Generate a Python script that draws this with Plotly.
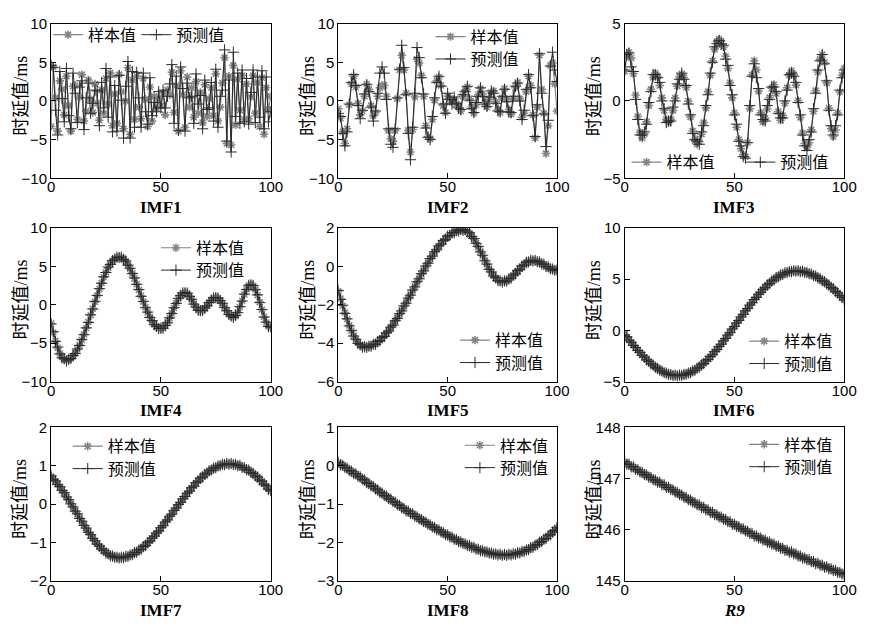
import plotly.graph_objects as go

# ---------------- data: sample (样本值) and predicted (预测值) delay per component ----------------
imf1_sample = [-3.3, 4.4, 0.4, -3.9, 2.6, 1.5, -1.8, 3.2, -0.6, -3.9,
               1.9, 2.0, -2.4, 0.5, 3.4, -2.6, -1.3, 2.7, 0.2, -1.5,
               2.2, -0.3, -2.5, 1.4, -1.6, 2.9, -0.4, 3.6, -3.2, 0.9,
               -2.9, 3.4, 1.2, -3.6, 0.0, 4.3, -4.3, 2.7, -2.4, 3.2,
               -0.8, -2.3, 2.9, 0.2, -3.3, 1.8, -2.6, 0.6, -1.0, 0.3,
               -0.6, 1.0, -1.8, 1.4, 0.8, 3.7, -1.5, 2.0, -3.9, 3.9,
               0.8, -3.4, 3.1, -0.8, 1.7, -2.1, 2.5, -1.6, 1.1, -2.8,
               2.1, -2.0, 0.3, 1.7, -1.9, 3.5, -2.6, -0.8, 2.3, 5.6,
               -5.5, 3.2, -5.7, 4.6, -3.1, 2.8, -1.2, 3.3, -2.4, 2.2,
               -2.3, 0.5, 3.3, -1.6, 2.4, -3.3, 3.0, -4.3, 1.7, -1.1,
               0.6]
imf1_pred = [4.6, 4.3, -1.2, -4.4, 3.8, 0.3, -2.7, 4.2, -1.9, -3.6,
             3.6, 1.0, -2.8, 1.8, 2.6, -3.7, 0.4, 2.3, -1.6, -0.3,
             1.4, 1.3, -3.2, 2.4, -0.9, 4.2, -2.1, 3.1, -4.0, 2.0,
             -3.9, 3.3, 0.1, -4.8, 1.9, 5.1, -4.8, 3.8, -3.4, 3.7,
             0.4, -3.4, 3.6, -1.4, -3.0, 3.0, -1.9, -0.2, -1.4, 1.2,
             -0.9, 1.4, -0.9, 0.6, 2.2, 4.7, -2.9, 3.2, -3.8, 4.4,
             1.6, -3.9, 2.3, 0.4, 0.6, -2.9, 3.5, -0.4, 0.7, -3.6,
             2.7, -1.1, -0.9, 2.4, -2.6, 4.1, -3.4, 0.6, 1.4, 6.6,
             -5.2, 2.7, -6.6, 6.3, -2.0, 3.6, -2.9, 4.0, -2.7, 2.9,
             -3.0, 1.1, 4.0, -2.8, 3.1, -2.1, 3.9, -3.6, 3.1, -2.7,
             -1.4]

imf2_sample = [-1.0, -2.2, -4.0, -5.5, -3.6, -0.5, 2.2, 3.2, 1.8, -0.3,
               -1.8, -1.3, 0.6, 2.2, 1.5, -0.6, -1.9, -1.5, 0.6, 1.7,
               2.0, 2.0, 0.6, -3.8, -4.9, -5.2, -3.8, 0.3, 4.0, 5.9,
               4.0, 1.0, -3.8, -6.6, -3.7, 0.5, 5.4, 4.9, 3.3, 0.6,
               -3.2, -4.6, -4.9, -2.4, 0.1, 2.6, 3.1, 2.0, -0.6, -1.5,
               0.6, 0.3, -0.2, 0.2, -0.4, -0.6, -1.3, 0.6, 1.4, 1.8,
               0.3, -0.8, -1.6, -0.5, 0.8, 1.6, 0.9, -0.2, -0.8, 0.2,
               1.1, 1.3, -0.1, -1.1, -1.5, 0.4, 1.6, 0.2, -1.1, -1.7,
               0.3, 1.7, 2.4, 0.3, -2.1, -1.6, 1.2, 3.2, 2.0, -1.8,
               -4.8, -0.8, 5.9, 1.5, -1.6, -6.8, -3.2, 4.6, 4.9, 2.2,
               -1.3]
imf2_pred = [-1.6, -2.0, -4.2, -5.8, -4.0, -0.4, 2.4, 3.4, 2.0, -0.6,
             -2.3, -1.2, 0.9, 2.1, 1.2, -0.8, -2.6, -1.3, 1.0, 3.6,
             4.4, 3.6, 0.2, -3.6, -5.6, -6.0, -3.6, 0.4, 4.1, 7.2,
             4.3, 0.8, -4.2, -7.6, -3.4, 1.0, 6.9, 5.6, 3.0, 0.9,
             -3.5, -4.7, -5.0, -2.0, 0.4, 2.4, 3.2, 1.9, -0.4, -1.6,
             1.0, 0.2, -0.4, 0.5, -0.3, -0.9, -1.1, 0.8, 1.2, 1.9,
             0.1, -1.0, -1.5, -0.2, 0.6, 1.7, 0.6, -0.4, -0.7, 0.5,
             1.3, 1.0, -0.3, -1.3, -1.4, 0.6, 1.5, -0.1, -1.4, -1.5,
             0.6, 1.9, 2.3, 0.0, -2.4, -1.2, 1.5, 3.4, 1.7, -1.9,
             -4.6, -0.5, 6.1, 1.0, -1.7, -5.9, -2.5, 4.5, 6.3, 4.0,
             2.5]

imf3_sample = [1.90, 2.90, 3.15,
               2.78, 1.76, 0.38, -1.01, -2.03, -2.40,
               -2.12, -1.35, -0.30, 0.75, 1.52, 1.80,
               1.59, 1.00, 0.20, -0.60, -1.19, -1.40,
               -1.19, -0.61, 0.18, 0.96, 1.54, 1.75,
               1.52, 0.89, -0.02, -1.03, -1.94, -2.57, -2.80,
               -2.64, -2.15, -1.40, -0.45, 0.60, 1.65, 2.60, 3.35, 3.84, 4.00,
               3.87, 3.49, 2.89, 2.10, 1.18, 0.20, -0.78, -1.70, -2.49, -3.09, -3.47, -3.60,
               -2.69, -0.50, 1.69, 2.60,
               2.02, 0.63, -0.77, -1.35,
               -1.12, -0.52, 0.22, 0.82, 1.05,
               0.48, -0.68, -1.25,
               -0.95, -0.15, 0.85, 1.65, 1.95,
               1.70, 1.02, 0.03, -1.07, -2.07, -2.75, -3.00,
               -2.70, -1.87, -0.67, 0.67, 1.87, 2.70, 3.00,
               2.50, 1.17, -0.47, -1.80, -2.30,
               -1.88, -0.78, 0.58, 1.68, 2.10]
imf3_pred = [2.0, 3.0, 3.1,
             2.2, 1.9, 0.1, -1.2, -2.2, -2.2,
             -2.0, -1.5, -0.1, 0.6, 1.7, 1.7,
             1.5, 1.2, 0.0, -0.5, -1.4, -1.3,
             -1.3, -0.4, 0.0, 1.1, 1.4, 1.8,
             1.4, 1.0, -0.2, -0.9, -2.1, -2.5, -2.6,
             -2.8, -2.0, -1.6, -0.3, 0.4, 1.8, 2.5, 3.5, 3.7, 3.9,
             3.7, 3.6, 2.7, 2.3, 1.0, 0.4, -0.9, -1.5, -2.6, -2.9, -3.6, -3.7,
             -2.7, -0.3, 1.6, 2.4,
             1.5, 0.8, -0.9, -1.2,
             -1.3, -0.3, 0.1, 0.9, 0.9,
             0.6, -0.8, -1.1,
             -1.1, 0.0, 0.7, 1.7, 1.8,
             1.6, 1.2, -0.1, -0.9, -2.2, -2.9, -3.2,
             -2.5, -2.0, -0.5, 0.5, 2.0, 2.6, 3.0,
             2.4, 1.3, -0.6, -1.6, -2.2,
             -1.6, -0.9, 0.7, 1.5, 2.0]

imf4_sample = [-2.4, -3.6, -4.7, -5.6, -6.3, -6.8, -7.1, -7.2,
               -7.14, -6.97, -6.69, -6.30, -5.82, -5.24, -4.58, -3.85, -3.06, -2.23, -1.38, -0.50,
               0.38, 1.23, 2.06, 2.85, 3.58, 4.24, 4.82, 5.30, 5.69, 5.97, 6.14, 6.20,
               6.14, 5.95, 5.64, 5.22, 4.70, 4.09, 3.42, 2.69, 1.93, 1.17, 0.41, -0.32, -0.99,
               -1.60, -2.12, -2.54, -2.85, -3.04, -3.10,
               -3.00, -2.73, -2.29, -1.73, -1.08, -0.42, 0.23, 0.79, 1.23, 1.50, 1.60,
               1.48, 1.15, 0.67, 0.13, -0.35, -0.68, -0.80,
               -0.71, -0.47, -0.12, 0.27, 0.62, 0.86, 0.95,
               0.85, 0.58, 0.16, -0.33, -0.81, -1.23, -1.50, -1.60,
               -1.44, -0.98, -0.29, 0.53, 1.34, 2.03, 2.49, 2.65,
               2.48, 2.00, 1.25, 0.34, -0.64, -1.55, -2.30, -2.78, -2.95]
imf4_pred = [-2.5, -3.5, -4.8, -5.5, -6.4, -6.9, -7.0, -7.3,
             -7.1, -7.0, -6.6, -6.35, -5.75, -5.3, -4.5, -3.9, -3.0, -2.3, -1.3, -0.55,
             0.45, 1.2, 2.1, 2.8, 3.65, 4.2, 4.9, 5.25, 5.75, 5.95, 6.2, 6.15,
             6.2, 5.9, 5.7, 5.15, 4.75, 4.05, 3.5, 2.65, 2.0, 1.1, 0.45, -0.4, -0.95,
             -1.65, -2.05, -2.6, -2.8, -3.1, -3.05,
             -3.05, -2.7, -2.35, -1.7, -1.15, -0.38, 0.18, 0.85, 1.2, 1.55, 1.55,
             1.52, 1.1, 0.72, 0.08, -0.3, -0.72, -0.76,
             -0.75, -0.43, -0.16, 0.31, 0.58, 0.9, 0.92,
             0.88, 0.54, 0.2, -0.38, -0.77, -1.27, -1.46, -1.64,
             -1.4, -1.03, -0.24, 0.48, 1.39, 1.98, 2.54, 2.6,
             2.52, 1.95, 1.3, 0.28, -0.6, -1.6, -2.25, -2.83, -2.9]

imf5_sample = [-1.30, -1.68, -2.05, -2.41, -2.75, -3.07, -3.35, -3.60, -3.81, -3.98, -4.10, -4.17, -4.20,
               -4.19, -4.17, -4.13, -4.08, -4.02, -3.94, -3.84, -3.74, -3.62, -3.49,
               -3.34, -3.19, -3.03, -2.86, -2.68, -2.49, -2.29, -2.09, -1.89, -1.68,
               -1.47, -1.26, -1.04, -0.83, -0.62, -0.41, -0.21, -0.01, 0.19, 0.38,
               0.56, 0.73, 0.89, 1.04, 1.19, 1.32, 1.44, 1.54, 1.64, 1.72,
               1.78, 1.83, 1.87, 1.89, 1.90,
               1.88, 1.82, 1.72, 1.58, 1.42, 1.23, 1.01, 0.78, 0.55, 0.32,
               0.09, -0.13, -0.32, -0.48, -0.62, -0.72, -0.78, -0.80,
               -0.79, -0.75, -0.68, -0.59, -0.49, -0.37, -0.25, -0.13, -0.01, 0.09,
               0.18, 0.25, 0.29, 0.30,
               0.29, 0.26, 0.21, 0.15, 0.09, 0.01, -0.05, -0.11, -0.16, -0.19, -0.20]
imf5_pred = [-1.25, -1.72, -2.02, -2.45, -2.73, -3.10, -3.33, -3.63, -3.79, -4.01, -4.08, -4.20, -4.18,
             -4.22, -4.15, -4.16, -4.05, -4.05, -3.91, -3.87, -3.71, -3.65, -3.46,
             -3.37, -3.16, -3.06, -2.83, -2.71, -2.46, -2.32, -2.06, -1.92, -1.65,
             -1.50, -1.23, -1.07, -0.80, -0.65, -0.38, -0.24, 0.02, 0.16, 0.41,
             0.53, 0.76, 0.86, 1.07, 1.16, 1.35, 1.41, 1.57, 1.61, 1.75,
             1.75, 1.86, 1.84, 1.92, 1.87,
             1.90, 1.79, 1.75, 1.55, 1.45, 1.20, 1.04, 0.75, 0.58, 0.29,
             0.12, -0.16, -0.29, -0.51, -0.59, -0.75, -0.75, -0.82,
             -0.76, -0.77, -0.65, -0.61, -0.46, -0.39, -0.22, -0.15, 0.02, 0.07,
             0.21, 0.23, 0.31, 0.28,
             0.31, 0.24, 0.23, 0.13, 0.11, -0.01, -0.03, -0.13, -0.14, -0.21, -0.18]

imf6_sample = [-0.40, -0.66, -0.92, -1.18, -1.44, -1.69, -1.93, -2.17, -2.40, -2.62,
               -2.84, -3.04, -3.23, -3.41, -3.57, -3.73, -3.86, -3.99, -4.10, -4.19,
               -4.26, -4.32, -4.37, -4.39, -4.40,
               -4.39, -4.37, -4.32, -4.26, -4.19, -4.09, -3.98, -3.86, -3.72, -3.56,
               -3.39, -3.21, -3.01, -2.80, -2.58, -2.35, -2.10, -1.85, -1.59, -1.32,
               -1.04, -0.76, -0.48, -0.19, 0.11, 0.40, 0.70, 1.00, 1.29, 1.59,
               1.88, 2.16, 2.44, 2.72, 2.99, 3.25, 3.50, 3.75, 3.98, 4.20,
               4.41, 4.61, 4.79, 4.96, 5.12, 5.26, 5.38, 5.49, 5.59, 5.66,
               5.72, 5.77, 5.79, 5.80,
               5.79, 5.77, 5.74, 5.69, 5.63, 5.56, 5.48, 5.38, 5.27, 5.15,
               5.02, 4.88, 4.73, 4.57, 4.40, 4.22, 4.03, 3.84, 3.63, 3.43,
               3.21, 3.00]
imf6_pred = [-0.45, -0.62, -0.95, -1.15, -1.47, -1.66, -1.96, -2.14, -2.43, -2.60,
             -2.87, -3.02, -3.26, -3.39, -3.60, -3.71, -3.89, -3.97, -4.13, -4.17,
             -4.29, -4.30, -4.40, -4.37, -4.43,
             -4.36, -4.40, -4.29, -4.29, -4.16, -4.12, -3.95, -3.89, -3.69, -3.59,
             -3.36, -3.24, -2.98, -2.83, -2.55, -2.38, -2.07, -1.88, -1.56, -1.35,
             -1.01, -0.79, -0.45, -0.22, 0.14, 0.37, 0.73, 0.97, 1.32, 1.56,
             1.91, 2.13, 2.47, 2.69, 3.02, 3.22, 3.53, 3.72, 4.01, 4.17,
             4.44, 4.58, 4.82, 4.93, 5.15, 5.23, 5.41, 5.46, 5.62, 5.63,
             5.75, 5.74, 5.82, 5.77,
             5.82, 5.74, 5.77, 5.66, 5.66, 5.53, 5.51, 5.35, 5.30, 5.12,
             5.05, 4.85, 4.76, 4.54, 4.43, 4.19, 4.06, 3.81, 3.66, 3.40,
             3.24, 2.97]

imf7_sample = [0.72, 0.66, 0.60, 0.52, 0.45, 0.37, 0.29, 0.20, 0.11, 0.02,
               -0.08, -0.17, -0.26, -0.36, -0.45, -0.54, -0.63, -0.72, -0.80, -0.88,
               -0.96, -1.03, -1.10, -1.15, -1.21, -1.26, -1.30, -1.33, -1.36, -1.37,
               -1.39, -1.39,
               -1.39, -1.38, -1.37, -1.35, -1.33, -1.30, -1.27, -1.24, -1.20, -1.16,
               -1.11, -1.06, -1.01, -0.95, -0.89, -0.82, -0.76, -0.69, -0.62, -0.55,
               -0.47, -0.40, -0.32, -0.25, -0.17, -0.09, -0.02, 0.06, 0.13, 0.21,
               0.28, 0.35, 0.42, 0.48, 0.55, 0.61, 0.67, 0.72, 0.77, 0.82,
               0.86, 0.90, 0.93, 0.96, 0.99, 1.01, 1.03, 1.04, 1.05, 1.05,
               1.05, 1.04, 1.03, 1.01, 1.00, 0.97, 0.94, 0.91, 0.88, 0.84,
               0.79, 0.75, 0.70, 0.64, 0.59, 0.53, 0.47, 0.40, 0.34]
imf7_pred = [0.74, 0.65, 0.61, 0.51, 0.46, 0.36, 0.30, 0.19, 0.12, 0.01,
             -0.07, -0.18, -0.25, -0.37, -0.44, -0.55, -0.62, -0.73, -0.79, -0.89,
             -0.95, -1.04, -1.09, -1.16, -1.20, -1.27, -1.29, -1.34, -1.35, -1.38,
             -1.38, -1.40,
             -1.38, -1.39, -1.36, -1.36, -1.32, -1.31, -1.26, -1.25, -1.19, -1.17,
             -1.10, -1.07, -1.00, -0.96, -0.88, -0.83, -0.75, -0.70, -0.61, -0.56,
             -0.46, -0.41, -0.31, -0.26, -0.16, -0.10, -0.01, 0.05, 0.14, 0.20,
             0.29, 0.34, 0.43, 0.47, 0.56, 0.60, 0.68, 0.71, 0.78, 0.81,
             0.87, 0.89, 0.94, 0.95, 1.00, 1.00, 1.04, 1.03, 1.06, 1.04,
             1.06, 1.03, 1.04, 1.00, 1.01, 0.96, 0.95, 0.90, 0.89, 0.83,
             0.80, 0.74, 0.71, 0.63, 0.60, 0.52, 0.48, 0.39, 0.35]

imf8_sample = [0.08, 0.04, 0.00, -0.03, -0.07, -0.11, -0.15, -0.19, -0.22, -0.26,
               -0.30, -0.34, -0.38, -0.43, -0.47, -0.51, -0.55, -0.59, -0.64, -0.68,
               -0.72, -0.76, -0.80, -0.84, -0.88, -0.92, -0.96, -1.00, -1.04, -1.08,
               -1.12, -1.16, -1.19, -1.23, -1.26, -1.30, -1.34, -1.37, -1.41, -1.44,
               -1.48, -1.51, -1.55, -1.58, -1.62, -1.65, -1.68, -1.71, -1.75, -1.78,
               -1.81, -1.84, -1.87, -1.90, -1.93, -1.96, -1.99, -2.01, -2.04, -2.06,
               -2.09, -2.11, -2.13, -2.16, -2.18, -2.20, -2.22, -2.23, -2.25, -2.26,
               -2.28, -2.29, -2.30, -2.31, -2.31, -2.32, -2.32, -2.32, -2.31, -2.31,
               -2.30, -2.29, -2.27, -2.26, -2.24, -2.22, -2.20, -2.17, -2.14, -2.11,
               -2.08, -2.04, -2.00, -1.96, -1.92, -1.88, -1.83, -1.78, -1.73, -1.67,
               -1.62]
imf8_pred = [0.09, 0.03, 0.01, -0.04, -0.06, -0.12, -0.14, -0.20, -0.21, -0.27,
             -0.29, -0.35, -0.37, -0.44, -0.46, -0.52, -0.54, -0.60, -0.63, -0.69,
             -0.71, -0.77, -0.79, -0.85, -0.87, -0.93, -0.95, -1.01, -1.03, -1.09,
             -1.11, -1.17, -1.18, -1.24, -1.25, -1.31, -1.33, -1.38, -1.40, -1.45,
             -1.47, -1.52, -1.54, -1.59, -1.61, -1.66, -1.67, -1.72, -1.74, -1.79,
             -1.80, -1.85, -1.86, -1.91, -1.92, -1.97, -1.98, -2.02, -2.03, -2.07,
             -2.08, -2.12, -2.12, -2.17, -2.17, -2.21, -2.21, -2.24, -2.24, -2.27,
             -2.27, -2.30, -2.29, -2.32, -2.30, -2.33, -2.31, -2.33, -2.30, -2.32,
             -2.29, -2.30, -2.26, -2.27, -2.23, -2.23, -2.19, -2.18, -2.13, -2.12,
             -2.07, -2.05, -1.99, -1.97, -1.91, -1.89, -1.82, -1.79, -1.72, -1.68,
             -1.61]

r9_sample = [147.32, 147.29, 147.27, 147.24, 147.22, 147.19, 147.16, 147.14, 147.11, 147.09,
             147.06, 147.04, 147.01, 146.99, 146.96, 146.94, 146.92, 146.89, 146.87, 146.84,
             146.82, 146.80, 146.77, 146.75, 146.72, 146.70, 146.67, 146.65, 146.62, 146.60,
             146.57, 146.55, 146.52, 146.50, 146.48, 146.45, 146.43, 146.40, 146.38, 146.35,
             146.33, 146.31, 146.28, 146.26, 146.24, 146.22, 146.19, 146.17, 146.15, 146.12,
             146.10, 146.08, 146.05, 146.03, 146.01, 145.99, 145.96, 145.94, 145.92, 145.89,
             145.87, 145.85, 145.83, 145.81, 145.79, 145.77, 145.75, 145.73, 145.71, 145.69,
             145.67, 145.65, 145.63, 145.61, 145.59, 145.57, 145.56, 145.54, 145.52, 145.50,
             145.48, 145.46, 145.44, 145.43, 145.41, 145.39, 145.37, 145.35, 145.34, 145.32,
             145.30, 145.28, 145.27, 145.25, 145.23, 145.22, 145.20, 145.18, 145.16, 145.15,
             145.13]
r9_pred = [147.33, 147.28, 147.28, 147.23, 147.23, 147.18, 147.17, 147.13, 147.12, 147.08,
           147.07, 147.03, 147.02, 146.98, 146.97, 146.93, 146.93, 146.88, 146.88, 146.83,
           146.83, 146.79, 146.78, 146.74, 146.73, 146.69, 146.68, 146.64, 146.63, 146.59,
           146.58, 146.54, 146.53, 146.49, 146.49, 146.44, 146.44, 146.39, 146.39, 146.34,
           146.34, 146.30, 146.29, 146.25, 146.25, 146.21, 146.20, 146.16, 146.16, 146.11,
           146.11, 146.07, 146.06, 146.02, 146.02, 145.98, 145.97, 145.93, 145.93, 145.88,
           145.88, 145.84, 145.84, 145.80, 145.80, 145.76, 145.76, 145.72, 145.72, 145.68,
           145.68, 145.64, 145.64, 145.60, 145.60, 145.56, 145.57, 145.53, 145.53, 145.49,
           145.49, 145.45, 145.45, 145.42, 145.42, 145.38, 145.38, 145.34, 145.35, 145.31,
           145.31, 145.27, 145.28, 145.24, 145.24, 145.21, 145.21, 145.17, 145.17, 145.14,
           145.14]

panel_titles = ["IMF1", "IMF2", "IMF3", "IMF4", "IMF5", "IMF6", "IMF7", "IMF8", "<i>R9</i>"]
y_ranges = [(-10, 10), (-10, 10), (-5, 5),
            (-10, 10), (-6, 2), (-5, 10),
            (-2, 2), (-3, 1), (145, 148)]
y_dticks = [5, 5, 5, 5, 2, 5, 1, 1, 1]
x_tickvals = [0, 50, 100]
series_names = ["样本值", "预测值"]

samples = [imf1_sample, imf2_sample, imf3_sample, imf4_sample, imf5_sample,
           imf6_sample, imf7_sample, imf8_sample, r9_sample]
preds = [imf1_pred, imf2_pred, imf3_pred, imf4_pred, imf5_pred,
         imf6_pred, imf7_pred, imf8_pred, r9_pred]

# ---------------- layout geometry (pixels of an 869 x 629 page) ----------------
W, H = 869, 629
col_px = [(48, 272), (341, 564), (633, 857)]
row_px = [(15, 174), (225, 383), (430, 588)]

# one legend box per entry: (left px, top px) for the sample entry and the predicted entry
legend_boxes = [((45, 9), (135, 9)), ((435, 11), (435, 34)), ((635, 140), (751, 140)),
                ((155, 228), (155, 251)), ((460, 323), (460, 346)), ((755, 324), (755, 347)),
                ((65, 432), (65, 455)), ((465, 431), (465, 454)), ((755, 430), (755, 453))]

SAMPLE_COLOR = "#858585"
PRED_COLOR = "#2b2b2b"
TICK_FONT = dict(family="Liberation Sans, Arial, sans-serif", size=15, color="black")
CJK_FONT = "Liberation Serif, Noto Sans CJK SC, serif"
LEGEND_FONT = dict(family="Noto Sans CJK SC, sans-serif", size=16, color="black")

fig = go.Figure()
layout_parts = {}
annotations = []

for i in range(9):
    r, c = divmod(i, 3)
    sfx = "" if i == 0 else str(i + 1)
    xa, ya = f"x{sfx}", f"y{sfx}"
    leg_s = "legend" if i == 0 else f"legend{2 * i + 1}"
    leg_p = f"legend{2 * i + 2}"

    s_vals, p_vals = samples[i], preds[i]
    fig.add_trace(go.Scatter(
        x=list(range(len(s_vals))), y=s_vals, name=series_names[0],
        mode="lines+markers", xaxis=xa, yaxis=ya, legend=leg_s,
        line=dict(color=SAMPLE_COLOR, width=1.2),
        marker=dict(symbol="asterisk-open", size=7, color=SAMPLE_COLOR,
                    line=dict(color=SAMPLE_COLOR, width=1.6)),
    ))
    fig.add_trace(go.Scatter(
        x=list(range(len(p_vals))), y=p_vals, name=series_names[1],
        mode="lines+markers", xaxis=xa, yaxis=ya, legend=leg_p,
        line=dict(color=PRED_COLOR, width=1),
        marker=dict(symbol="cross-thin-open", size=8, color=PRED_COLOR,
                    line=dict(color=PRED_COLOR, width=1)),
    ))

    x0, x1 = col_px[c]
    y0, y1 = row_px[r]
    lo, hi = y_ranges[i]
    layout_parts[f"xaxis{sfx}"] = dict(
        domain=[x0 / W, x1 / W], range=[0, 100], anchor=ya,
        tickvals=x_tickvals, ticks="inside", ticklen=5, tickcolor="black",
        ticklabelstandoff=-5,
        showline=True, linecolor="black", linewidth=1, mirror=True,
        showgrid=False, zeroline=False, tickfont=TICK_FONT,
    )
    layout_parts[f"yaxis{sfx}"] = dict(
        domain=[1 - y1 / H, 1 - y0 / H], range=[lo, hi], anchor=xa,
        dtick=y_dticks[i], tick0=lo, ticks="inside", ticklen=5, tickcolor="black",
        showline=True, linecolor="black", linewidth=1, mirror=True,
        showgrid=False, zeroline=False, tickfont=TICK_FONT,
    )

    # x-axis caption under each panel
    annotations.append(dict(
        text=f"<b>{panel_titles[i]}</b>", xref="paper", yref="paper",
        x=(x0 + x1) / 2 / W, y=1 - (y1 + 30) / H, xanchor="center", yanchor="middle",
        showarrow=False, font=dict(family="Liberation Serif, Times New Roman, serif",
                                   size=17, color="black"),
    ))
    # y-axis caption
    annotations.append(dict(
        text="时延值/ms", xref="paper", yref="paper",
        x=(x0 - 31) / W, y=1 - ((y0 + y1) / 2 - 5) / H, xanchor="center", yanchor="middle",
        textangle=-90, showarrow=False, font=dict(family=CJK_FONT, size=18, color="black"),
    ))

    for leg_name, (lx, ly) in zip((leg_s, leg_p), legend_boxes[i]):
        layout_parts[leg_name] = dict(
            orientation="v", x=lx / W, y=1 - ly / H, xanchor="left", yanchor="top",
            bgcolor="rgba(0,0,0,0)", borderwidth=0, font=LEGEND_FONT,
            itemclick=False, itemdoubleclick=False,
        )

fig.update_layout(
    width=W, height=H, margin=dict(l=0, r=0, t=0, b=0),
    paper_bgcolor="white", plot_bgcolor="white",
    showlegend=True, annotations=annotations, **layout_parts,
)

fig.write_html("out.html")
